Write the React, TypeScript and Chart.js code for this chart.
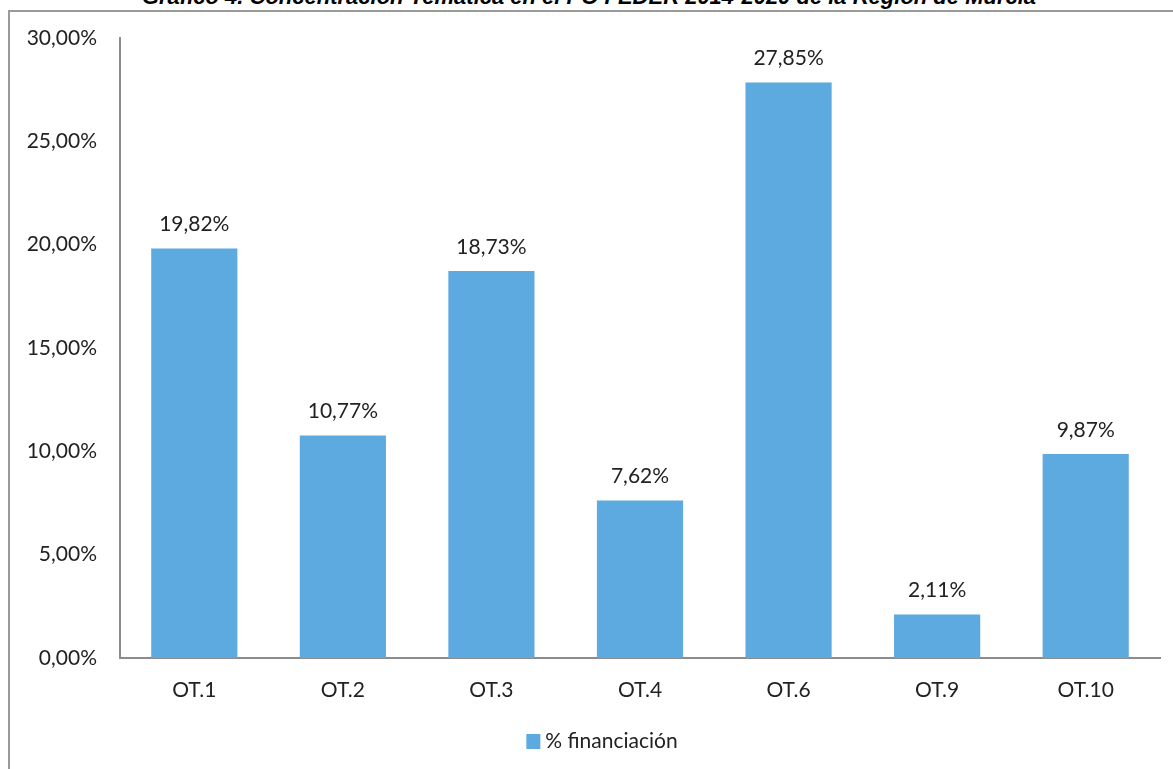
import React, { useEffect, useRef } from "react";
import { Chart, registerables } from "chart.js";

Chart.register(...registerables);

const TITLE = "Gráfico 4. Concentración Temática en el PO FEDER 2014-2020 de la Región de Murcia";
const CATEGORIES = ["OT.1", "OT.2", "OT.3", "OT.4", "OT.6", "OT.9", "OT.10"];
const SERIES_LABEL = "% financiación";
const VALUES = [19.82, 10.77, 18.73, 7.62, 27.85, 2.11, 9.87];
const Y_MIN = 0;
const Y_MAX = 30;
const Y_STEP = 5;

const BAR_COLOR = "#5DAAE0";
const TEXT_COLOR = "#222222";
const AXIS_COLOR = "#8C8C8C";
const FONT_FAMILY = "Lato, 'Open Sans', sans-serif";
const FONT_SIZE = 21;

const fmt = (v: number) => v.toFixed(2).replace(".", ",") + "%";

const valueLabels = {
  id: "valueLabels",
  afterDatasetsDraw(chart: any) {
    const ctx = chart.ctx;
    const meta = chart.getDatasetMeta(0);
    ctx.save();
    ctx.font = `${FONT_SIZE}px ${FONT_FAMILY}`;
    ctx.fillStyle = TEXT_COLOR;
    ctx.textAlign = "center";
    ctx.textBaseline = "middle";
    meta.data.forEach((bar: any, i: number) => {
      const v = chart.data.datasets[0].data[i] as number;
      ctx.fillText(fmt(v), bar.x, bar.y - 24);
    });
    ctx.restore();
  },
};

const customLegend = {
  id: "customLegend",
  afterDraw(chart: any) {
    const ctx = chart.ctx;
    const ds = chart.data.datasets[0];
    ctx.save();
    ctx.font = `${FONT_SIZE}px ${FONT_FAMILY}`;
    const text = ds.label as string;
    const tw = ctx.measureText(text).width;
    const box = 14;
    const gap = 5;
    const total = box + gap + tw;
    const cx = (chart.chartArea.left + chart.chartArea.right) / 2 - 38;
    const x0 = cx - total / 2;
    const cy = 741;
    ctx.fillStyle = ds.backgroundColor;
    ctx.fillRect(x0, cy - box / 2, box, box + 1);
    ctx.fillStyle = TEXT_COLOR;
    ctx.textAlign = "left";
    ctx.textBaseline = "middle";
    ctx.fillText(text, x0 + box + gap, cy);
    ctx.restore();
  },
};

export default function App() {
  const canvasRef = useRef<HTMLCanvasElement | null>(null);

  useEffect(() => {
    if (!canvasRef.current) return;
    const chart = new Chart(canvasRef.current, {
      type: "bar",
      data: {
        labels: CATEGORIES,
        datasets: [
          {
            label: SERIES_LABEL,
            data: VALUES,
            backgroundColor: BAR_COLOR,
            borderWidth: 0,
            categoryPercentage: 1,
            barPercentage: 0.58,
          },
        ],
      },
      options: {
        animation: false,
        responsive: false,
        maintainAspectRatio: false,
        layout: { padding: { left: 0, top: 38, right: 13, bottom: 0 } },
        plugins: {
          legend: { display: false },
          title: { display: false },
          tooltip: { enabled: false },
        },
        scales: {
          x: {
            grid: { display: false, drawTicks: false },
            border: { display: true, color: AXIS_COLOR, width: 2 },
            ticks: {
              color: TEXT_COLOR,
              font: { family: FONT_FAMILY, size: FONT_SIZE },
              padding: 20,
            },
            afterFit: (scale: any) => {
              scale.height = 111;
            },
          },
          y: {
            min: Y_MIN,
            max: Y_MAX,
            grid: { display: false, drawTicks: false },
            border: { display: true, color: AXIS_COLOR, width: 2 },
            ticks: {
              stepSize: Y_STEP,
              color: TEXT_COLOR,
              font: { family: FONT_FAMILY, size: FONT_SIZE },
              padding: 23,
              callback: (v: any) => fmt(Number(v)),
            },
            afterFit: (scale: any) => {
              scale.width = 120;
            },
          },
        },
      },
      plugins: [valueLabels, customLegend],
    });
    return () => chart.destroy();
  }, []);

  return (
    <div
      style={{
        position: "fixed",
        left: 0,
        top: 0,
        width: 1173,
        height: 769,
        overflow: "hidden",
        background: "#ffffff",
      }}
    >
      <div
        style={{
          position: "absolute",
          left: 8,
          top: 10,
          width: 1400,
          height: 1000,
          borderLeft: "2px solid #9a9a9a",
          borderTop: "2px solid #9a9a9a",
        }}
      />
      <div
        style={{
          position: "absolute",
          left: 0,
          top: -14,
          width: 1178,
          textAlign: "center",
          fontFamily: "'Liberation Sans', Arial, sans-serif",
          fontWeight: "bold",
          fontStyle: "italic",
          fontSize: 22,
          lineHeight: "22px",
          color: "#000",
          whiteSpace: "nowrap",
        }}
      >
        {TITLE}
      </div>
      <canvas
        ref={canvasRef}
        width={1173}
        height={769}
        style={{ position: "absolute", left: 0, top: 0, width: 1173, height: 769 }}
      />
    </div>
  );
}
